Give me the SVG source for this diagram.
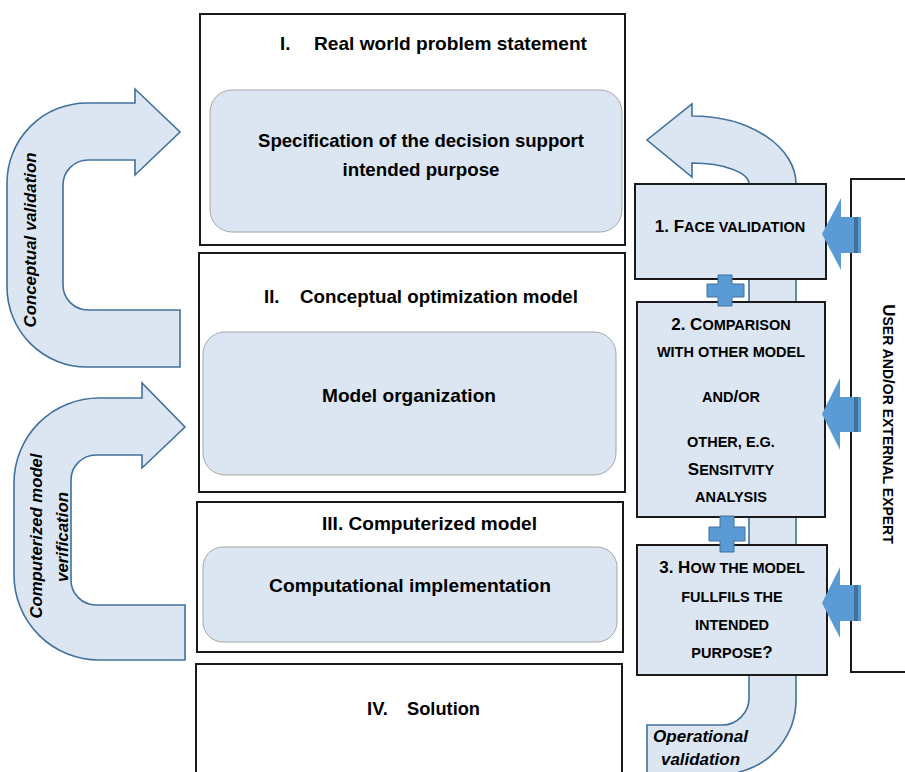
<svg xmlns="http://www.w3.org/2000/svg" width="905" height="772" viewBox="0 0 905 772">
<style>
  .box{fill:#ffffff;stroke:#1a1a1a;stroke-width:2}
  .vbox{fill:#dce6f2;stroke:#1a1a1a;stroke-width:2}
  .inner{fill:#dce6f2;stroke:#a6a6a6;stroke-width:1}
  .band{fill:#dce6f2;stroke:#41719c;stroke-width:1.6}
  .blk{fill:#5b9bd5}
  .blkd{fill:#41719c}
  .plus{fill:#5b9bd5;stroke:#41719c;stroke-width:1}
  text{font-family:"Liberation Sans",Arial,sans-serif;font-weight:bold;fill:#000}
  .h{font-size:18.5px}
  .it{font-style:italic;font-size:16px}
  .big{font-size:17px}
  .sm{font-size:14.5px}
  .vb{font-size:17px}
  .vs{font-size:14px}
</style>

<g id="operational-validation">
  <path class="band" d="M 647 785 L 647 725 L 722 725 A 27 27 0 0 0 749 698 L 749 184 A 57 21 0 0 0 692 163 L 692 177 L 647 140 L 692 104 L 692 116 A 104 68 0 0 1 796 184 L 796 700 A 74 74 0 0 1 739 772 L 736 785 Z"/>
  <text class="it" x="653" y="742" textLength="95" lengthAdjust="spacingAndGlyphs">Operational</text>
  <text class="it" x="661" y="765" textLength="79" lengthAdjust="spacingAndGlyphs">validation</text>
</g>

<g id="conceptual-validation">
  <path class="band" d="M 180 367 L 87 367 A 80 80 0 0 1 7 287 L 7 183 A 80 80 0 0 1 87 103 L 135 103 L 135 89 L 180 132 L 135 175 L 135 160 L 88 160 A 25 25 0 0 0 63 185 L 63 285 A 25 25 0 0 0 88 310 L 180 310 Z"/>
  <text class="it" transform="translate(36,240) rotate(-90)" text-anchor="middle" textLength="175" lengthAdjust="spacingAndGlyphs">Conceptual validation</text>
</g>

<g id="computerized-model-verification">
  <path class="band" d="M 185 660 L 99 660 A 85 85 0 0 1 14 575 L 14 483 A 85 85 0 0 1 99 398 L 142 398 L 142 383 L 185 427 L 142 468 L 142 455 L 96 455 A 25 25 0 0 0 71 480 L 71 580 A 25 25 0 0 0 96 605 L 185 605 Z"/>
  <text class="it" transform="translate(42,536) rotate(-90)" text-anchor="middle" textLength="165" lengthAdjust="spacingAndGlyphs">Computerized model</text>
  <text class="it" transform="translate(68,537) rotate(-90)" text-anchor="middle" textLength="90" lengthAdjust="spacingAndGlyphs">verification</text>
</g>

<g id="box-I">
  <rect class="box" x="200" y="14" width="425" height="231"/>
  <text class="h" x="280" y="50">I.</text>
  <text class="h" x="314" y="50" textLength="273" lengthAdjust="spacingAndGlyphs">Real world problem statement</text>
  <rect class="inner" x="210" y="90" width="412" height="142" rx="22"/>
  <text class="h" x="421" y="147" text-anchor="middle" textLength="326" lengthAdjust="spacingAndGlyphs">Specification of the decision support</text>
  <text class="h" x="421" y="176" text-anchor="middle" textLength="157" lengthAdjust="spacingAndGlyphs">intended purpose</text>
</g>

<g id="box-II">
  <rect class="box" x="199" y="253" width="426" height="239"/>
  <text class="h" x="264" y="303">II.</text>
  <text class="h" x="300" y="303" textLength="278" lengthAdjust="spacingAndGlyphs">Conceptual optimization model</text>
  <rect class="inner" x="203" y="332" width="413" height="143" rx="22"/>
  <text class="h" x="409" y="402" text-anchor="middle" textLength="174" lengthAdjust="spacingAndGlyphs">Model organization</text>
</g>

<g id="box-III">
  <rect class="box" x="197" y="502" width="426" height="150"/>
  <text class="h" x="322" y="530" textLength="215" lengthAdjust="spacingAndGlyphs">III. Computerized model</text>
  <rect class="inner" x="203" y="547" width="414" height="95" rx="20"/>
  <text class="h" x="410" y="592" text-anchor="middle" textLength="282" lengthAdjust="spacingAndGlyphs">Computational implementation</text>
</g>

<g id="box-IV">
  <rect class="box" x="196" y="664" width="426" height="120"/>
  <text class="h" x="367" y="715">IV.</text>
  <text class="h" x="407" y="715" textLength="73" lengthAdjust="spacingAndGlyphs">Solution</text>
</g>

<g id="expert">
  <rect class="box" x="851" y="179" width="70" height="493"/>
  <text transform="translate(883,424) rotate(90)" text-anchor="middle"><tspan class="vb">U</tspan><tspan class="vs">SER AND</tspan><tspan class="vb">/</tspan><tspan class="vs">OR EXTERNAL EXPERT</tspan></text>
</g>

<g id="face-validation">
  <rect class="vbox" x="635" y="184" width="191" height="95"/>
  <text x="730" y="232" text-anchor="middle"><tspan class="big">1. F</tspan><tspan class="sm">ACE VALIDATION</tspan></text>
</g>

<g id="comparison">
  <rect class="vbox" x="637" y="302" width="188" height="215"/>
  <text x="731" y="330" text-anchor="middle"><tspan class="big">2. C</tspan><tspan class="sm">OMPARISON</tspan></text>
  <text class="sm" x="731" y="357" text-anchor="middle">WITH OTHER MODEL</text>
  <text x="731" y="402" text-anchor="middle"><tspan class="sm">AND</tspan><tspan class="big">/</tspan><tspan class="sm">OR</tspan></text>
  <text class="sm" x="731" y="447" text-anchor="middle">OTHER, E.G.</text>
  <text x="731" y="475" text-anchor="middle"><tspan class="big">S</tspan><tspan class="sm">ENSITVITY</tspan></text>
  <text class="sm" x="731" y="502" text-anchor="middle">ANALYSIS</text>
</g>

<g id="intended-purpose">
  <rect class="vbox" x="637" y="545" width="190" height="130"/>
  <text x="732" y="573" text-anchor="middle"><tspan class="big">3. H</tspan><tspan class="sm">OW THE MODEL</tspan></text>
  <text class="sm" x="732" y="602" text-anchor="middle">FULLFILS THE</text>
  <text class="sm" x="732" y="630" text-anchor="middle">INTENDED</text>
  <text x="732" y="658" text-anchor="middle"><tspan class="sm">PURPOSE</tspan><tspan class="big">?</tspan></text>
</g>

<g id="connectors">
  <path class="plus" d="M 718 275 H 732 V 284 H 744 V 297 H 732 V 306 H 718 V 297 H 707 V 284 H 718 Z"/>
  <path class="plus" d="M 720 516 H 734 V 527 H 745 V 541 H 734 V 552 H 720 V 541 H 709 V 527 H 720 Z"/>
  <polygon class="blk" points="822,234 841,198 841,217 861,217 861,253 841,253 841,270"/>
  <rect class="blkd" x="854" y="217" width="4" height="36"/>
  <polygon class="blk" points="822,414 840,378 840,397 861,397 861,432 840,432 840,450"/>
  <rect class="blkd" x="854" y="397" width="4" height="35"/>
  <polygon class="blk" points="822,603 840,567 840,585 861,585 861,621 840,621 840,638"/>
  <rect class="blkd" x="854" y="585" width="4" height="36"/>
</g>
</svg>
